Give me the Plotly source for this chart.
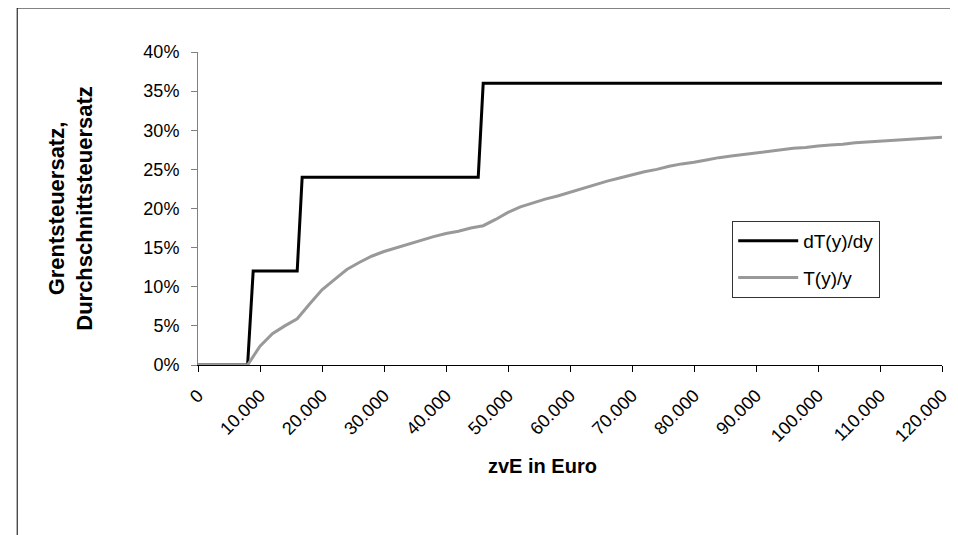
import plotly.graph_objects as go

# Marginal tax rate (step schedule), breakpoints
x_marg = [0, 8000, 8900, 16000, 16800, 45200, 46000, 120000]
y_marg = [0.0, 0.0, 0.12, 0.12, 0.24, 0.24, 0.36, 0.36]

# Average tax rate T(y)/y
x_avg = [0, 8000, 10000, 12000, 14000, 16000, 18000, 20000, 22000, 24000, 26000,
         28000, 30000, 32000, 34000, 36000, 38000, 40000, 42000, 44000, 46000,
         48000, 50000, 52000, 54000, 56000, 58000, 60000, 62000, 64000, 66000,
         68000, 70000, 72000, 74000, 76000, 78000, 80000, 82000, 84000, 86000,
         88000, 90000, 92000, 94000, 96000, 98000, 100000, 102000, 104000,
         106000, 108000, 110000, 112000, 114000, 116000, 118000, 120000]
y_avg = [0, 0, 2.4, 4.0, 5.0, 5.9, 7.8, 9.6, 10.9, 12.2, 13.1,
         13.9, 14.5, 15.0, 15.5, 16.0, 16.4, 16.8, 17.1, 17.5, 17.8,
         18.6, 19.5, 20.2, 20.7, 21.2, 21.6, 22.1, 22.6, 23.1, 23.5,
         23.9, 24.3, 24.7, 25.0, 25.4, 25.7, 25.9, 26.2, 26.5, 26.7,
         26.9, 27.1, 27.3, 27.5, 27.7, 27.8, 28.0, 28.1, 28.2,
         28.4, 28.5, 28.6, 28.7, 28.8, 28.9, 29.0, 29.1]
y_avg = [v / 100 for v in y_avg]

x_ticks = list(range(0, 120001, 10000))
x_ticktext = ["0", "10.000", "20.000", "30.000", "40.000", "50.000", "60.000",
              "70.000", "80.000", "90.000", "100.000", "110.000", "120.000"]
y_ticks = [0, 0.05, 0.10, 0.15, 0.20, 0.25, 0.30, 0.35, 0.40]
y_ticktext = ["0%", "5%", "10%", "15%", "20%", "25%", "30%", "35%", "40%"]

FONT = "Liberation Sans, Arial, sans-serif"

fig = go.Figure()
fig.add_trace(go.Scatter(x=x_marg, y=y_marg, mode="lines", name="dT(y)/dy",
                         line=dict(color="#000000", width=3), legendgroup="a"))
fig.add_trace(go.Scatter(x=x_avg, y=y_avg, mode="lines", name="T(y)/y",
                         line=dict(color="#999999", width=3), legendgroup="b"))

fig.update_layout(
    width=950, height=527,
    margin=dict(l=190, r=16, t=44, b=170, autoexpand=False),
    paper_bgcolor="white", plot_bgcolor="white",
    font=dict(family=FONT, size=18, color="#000000"),
    showlegend=True,
    legend=dict(x=0.718, y=0.46, xanchor="left", yanchor="top",
                bordercolor="#333333", borderwidth=1, bgcolor="white",
                font=dict(size=19), tracegroupgap=9, traceorder="grouped",
                entrywidth=196, itemwidth=60),
    xaxis=dict(range=[0, 120000], tickvals=x_ticks, ticktext=x_ticktext,
               tickangle=-45, showgrid=False, zeroline=False,
               showline=True, linecolor="#000000", linewidth=1,
               ticks="outside", ticklen=6, tickcolor="#000000",
               ticklabelstandoff=6),
    yaxis=dict(range=[0, 0.4], tickvals=y_ticks, ticktext=y_ticktext,
               showgrid=False, zeroline=False,
               showline=True, linecolor="#808080", linewidth=1,
               ticks="outside", ticklen=6, tickcolor="#808080",
               ticklabelstandoff=8,
               title=dict(text="<b>Grentsteuersatz,<br>Durchschnittsteuersatz</b>",
                          standoff=44, font=dict(size=22))),
    annotations=[dict(text="<b>zvE in Euro</b>", xref="paper", yref="paper",
                      x=0.4624, y=-0.3227, xanchor="center", yanchor="middle",
                      showarrow=False, font=dict(size=20))],
    shapes=[dict(type="path", xref="paper", yref="paper",
                 path="M -0.243,-1.0 L -0.243,1.1406 L 1.3,1.1406",
                 line=dict(color="#000000", width=1), layer="below")],
)

fig.write_html("out.html")
